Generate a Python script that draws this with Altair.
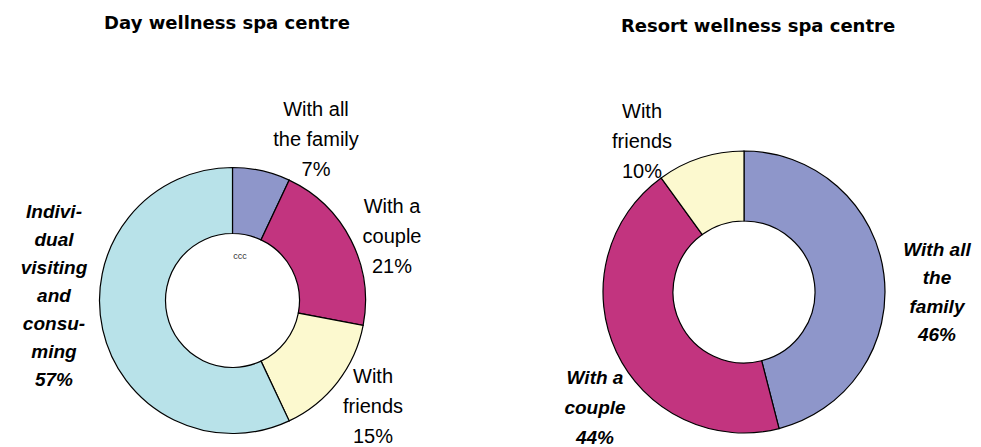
import altair as alt
import pandas as pd

# ---- data ----
categories = ["With all the family", "With a couple", "With friends", "Individual visiting and consuming"]
colors = ["#8e96ca", "#c2347f", "#fcf9cf", "#b8e2e9"]

day_cats = ["With all the family", "With a couple", "With friends", "Individual visiting and consuming"]
day_vals = [7, 21, 15, 57]
day_lines = [["With all", "the family"], ["With a", "couple"], ["With", "friends"],
             ["Indivi-", "dual", "visiting", "and", "consu-", "ming"]]

resort_cats = ["With all the family", "With a couple", "With friends"]
resort_vals = [46, 44, 10]
resort_lines = [["With all", "the", "family"], ["With a", "couple"], ["With", "friends"]]

titles = ["Day wellness spa centre", "Resort wellness spa centre"]
center_note = "ccc"

FONT = "Liberation Sans"

day_df = pd.DataFrame({"cat": day_cats, "value": day_vals, "idx": range(len(day_cats))})
res_df = pd.DataFrame({"cat": resort_cats, "value": resort_vals, "idx": range(len(resort_cats))})

color_scale = alt.Scale(domain=categories, range=colors)


def donut(df, cx, cy, r_out, r_in):
    return alt.Chart(df).mark_arc(
        outerRadius=r_out, innerRadius=r_in, stroke="black", strokeWidth=1.2
    ).encode(
        theta=alt.Theta("value:Q", stack=True),
        order=alt.Order("idx:Q"),
        color=alt.Color("cat:N", scale=color_scale, legend=None),
        x=alt.value(cx),
        y=alt.value(cy),
    )


def label(lines, value, x, y, bold=False, lh=30, size=20):
    # y is the middle of the first line
    txt = "\n".join(lines + [f"{value}%"])
    kw = dict(fontWeight="bold", fontStyle="italic") if bold else {}
    return alt.Chart(pd.DataFrame({"t": [txt]})).mark_text(
        font=FONT, fontSize=size, lineBreak="\n", lineHeight=lh,
        align="center", baseline="middle", color="#000000", **kw
    ).encode(x=alt.value(x), y=alt.value(y), text="t:N")


def title(text, x, y):
    return alt.Chart(pd.DataFrame({"t": [text]})).mark_text(
        font="DejaVu Sans", fontSize=18, fontWeight="bold", align="center",
        baseline="middle", color="#000000"
    ).encode(x=alt.value(x), y=alt.value(y), text="t:N")


layers = [
    donut(day_df, 224.5, 292.5, 133, 67),
    donut(res_df, 736, 284, 141, 71),
    title(titles[0], 219, 16),
    title(titles[1], 750, 19),
    alt.Chart(pd.DataFrame({"t": [center_note]})).mark_text(
        font=FONT, fontSize=9, align="center", baseline="middle", color="#333333"
    ).encode(x=alt.value(232), y=alt.value(248), text="t:N"),
    label(day_lines[0], day_vals[0], 308, 102),
    label(day_lines[1], day_vals[1], 384, 199),
    label(day_lines[2], day_vals[2], 365, 369),
    label(day_lines[3], day_vals[3], 46, 204, bold=True, lh=28, size=19),
    label(resort_lines[0], resort_vals[0], 929, 242, bold=True, lh=28.3, size=19),
    label(resort_lines[1], resort_vals[1], 587, 370, bold=True, lh=30, size=19),
    label(resort_lines[2], resort_vals[2], 634, 104),
]

chart = alt.layer(*layers).resolve_scale(theta="independent").properties(
    width=965, height=439, padding=0, autosize="none"
).configure_view(stroke=None)

chart.save("out.html", embed_options={"renderer": "svg", "actions": False})
